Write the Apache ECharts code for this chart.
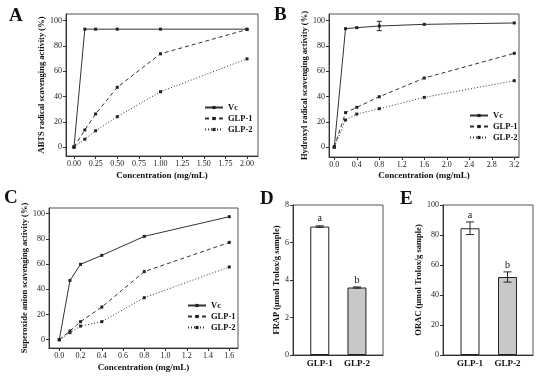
<!DOCTYPE html>
<html>
<head>
<meta charset="utf-8">
<script src="https://cdn.jsdelivr.net/npm/echarts@6/dist/echarts.min.js"></script>
<style>html,body{margin:0;padding:0;background:#fff;}#c{width:550px;height:385px;}</style>
</head>
<body>
<div id="c"></div>
<script>
// ---- Data ----
const concA = [0, 0.125, 0.25, 0.5, 1, 2];
const vcA = [0, 93.3, 93.3, 93.3, 93.3, 93.3];
const glp1A = [0, 13.5, 26.2, 47.3, 73.8, 93];
const glp2A = [0, 6.2, 12.9, 24, 43.8, 69.8];
const ticksA = [0, 0.25, 0.5, 0.75, 1, 1.25, 1.5, 1.75, 2];

const concB = [0, 0.2, 0.4, 0.8, 1.6, 3.2];
const vcB = [0, 93.7, 94.5, 95.8, 97.1, 98.2];
const vcBErr = [0, 0.5, 0.4, 3.7, 0.6, 0.4];
const glp1B = [0, 27.2, 31.4, 39.8, 54.6, 74.2];
const glp2B = [0, 21.4, 26.1, 30.3, 39.3, 52.5];
const ticksB = [0, 0.4, 0.8, 1.2, 1.6, 2.0, 2.4, 2.8, 3.2];

const concC = [0, 0.1, 0.2, 0.4, 0.8, 1.6];
const vcC = [0, 47, 59.8, 66.9, 82, 97.6];
const glp1C = [0, 6.9, 14.3, 25.9, 54, 77.2];
const glp2C = [0, 5.6, 10.8, 14.3, 33.3, 57.7];
const ticksC = [0, 0.2, 0.4, 0.6, 0.8, 1.0, 1.2, 1.4, 1.6];

const pctTicks = [0, 20, 40, 60, 80, 100];

const samples = ['GLP-1', 'GLP-2'];
const frap = [6.85, 3.6];
const frapErr = [0.04, 0.03];
const frapSig = ['a', 'b'];
const frapTicks = [0, 2, 4, 6, 8];
const orac = [84.5, 52];
const oracErr = [4.2, 3.4];
const oracSig = ['a', 'b'];
const oracTicks = [0, 20, 40, 60, 80, 100];

// ---- Styles ----
const FONT = 'Liberation Serif';
const AX = '#333';
const lineStyles = {
  'Vc': { type: 'solid' },
  'GLP-1': { type: [4, 3] },
  'GLP-2': { type: [1, 2] }
};

function valueAxisX(gridIndex, min, max, ticks, fmt, name, nameGap) {
  return {
    type: 'value', gridIndex, min, max,
    name, nameLocation: 'middle', nameGap,
    nameTextStyle: { fontFamily: FONT, fontWeight: 'bold', fontSize: 9, color: '#111' },
    axisLine: { show: true, onZero: false, lineStyle: { color: AX, width: 1 } },
    axisTick: { show: true, inside: false, length: 3, customValues: ticks, lineStyle: { color: AX } },
    axisLabel: { show: true, customValues: ticks, formatter: fmt, fontFamily: FONT, fontSize: 8, color: '#222', margin: 4 },
    splitLine: { show: false }
  };
}
function valueAxisY(gridIndex, min, max, ticks, name, nameGap) {
  return {
    type: 'value', gridIndex, min, max,
    name, nameLocation: 'middle', nameGap, nameRotate: 90,
    nameTextStyle: { fontFamily: FONT, fontWeight: 'bold', fontSize: 8.5, color: '#111' },
    axisLine: { show: true, onZero: false, lineStyle: { color: AX, width: 1 } },
    axisTick: { show: true, inside: false, length: 3, customValues: ticks, lineStyle: { color: AX } },
    axisLabel: { show: true, customValues: ticks, fontFamily: FONT, fontSize: 8, color: '#222', margin: 4 },
    splitLine: { show: false }
  };
}
function zip(xs, ys) { return xs.map((x, i) => [x, ys[i]]); }
function lineSeries(name, xs, ys, idx) {
  return {
    type: 'line', name, xAxisIndex: idx, yAxisIndex: idx,
    data: zip(xs, ys),
    symbol: 'rect', symbolSize: 3,
    itemStyle: { color: '#222' },
    lineStyle: Object.assign({ color: '#333', width: 1 }, lineStyles[name]),
    animation: false
  };
}
function errorSeries(idx, data, capW, withLabel) {
  return {
    type: 'custom', xAxisIndex: idx, yAxisIndex: idx,
    data, animation: false, z: 5,
    renderItem: function (params, api) {
      const x = api.value(0), lo = api.value(1), hi = api.value(2);
      const pLo = api.coord([x, lo]), pHi = api.coord([x, hi]);
      const st = { stroke: '#222', lineWidth: 1 };
      const ch = [
        { type: 'line', shape: { x1: pLo[0], y1: pLo[1], x2: pHi[0], y2: pHi[1] }, style: st },
        { type: 'line', shape: { x1: pLo[0] - capW, y1: pLo[1], x2: pLo[0] + capW, y2: pLo[1] }, style: st },
        { type: 'line', shape: { x1: pHi[0] - capW, y1: pHi[1], x2: pHi[0] + capW, y2: pHi[1] }, style: st }
      ];
      if (withLabel) {
        ch.push({ type: 'text', style: { text: api.value(3), x: pHi[0], y: pHi[1] - 2, align: 'center', verticalAlign: 'bottom', fontFamily: FONT, fontSize: 10, fill: '#111' } });
      }
      return { type: 'group', children: ch };
    }
  };
}
function legend(left, top) {
  return {
    orient: 'vertical', left, top, padding: 0, itemGap: 2,
    itemWidth: 18, itemHeight: 4,
    data: ['Vc', 'GLP-1', 'GLP-2'],
    textStyle: { fontFamily: FONT, fontWeight: 'bold', fontSize: 8.5, color: '#111' },
    selectedMode: false
  };
}

const gridBase = { show: true, borderColor: '#555', borderWidth: 1, backgroundColor: 'transparent', containLabel: false };

const option = {
  backgroundColor: '#fff',
  animation: false,
  textStyle: { fontFamily: FONT },
  title: [
    { text: 'A', left: 9, top: 7 },
    { text: 'B', left: 274, top: 6 },
    { text: 'C', left: 4, top: 189 },
    { text: 'D', left: 260, top: 190 },
    { text: 'E', left: 400, top: 190 }
  ].map(t => Object.assign(t, { padding: 0, textStyle: { fontFamily: FONT, fontWeight: 'bold', fontSize: 19, color: '#111' } })),
  legend: [legend(204, 103), legend(469, 111), legend(187, 301)],
  grid: [
    Object.assign({ left: 66, top: 14, width: 192, height: 142 }, gridBase),
    Object.assign({ left: 329, top: 14, width: 190, height: 143 }, gridBase),
    Object.assign({ left: 49, top: 208, width: 189, height: 140 }, gridBase),
    Object.assign({ left: 293, top: 205, width: 90, height: 150 }, gridBase),
    Object.assign({ left: 443, top: 205, width: 90, height: 150 }, gridBase)
  ],
  xAxis: [
    valueAxisX(0, -0.0925, 2.127, ticksA, v => v.toFixed(2), 'Concentration (mg/mL)', 15),
    valueAxisX(1, -0.094, 3.284, ticksB, v => v.toFixed(1), 'Concentration (mg/mL)', 14),
    valueAxisX(2, -0.097, 1.682, ticksC, v => v.toFixed(1), 'Concentration (mg/mL)', 15),
    (function () { const a = valueAxisX(3, -0.72, 1.70, [0, 1], v => samples[Math.round(v)], '', 0);
      a.axisTick.show = false; a.axisLabel.fontWeight = 'bold'; a.axisLabel.fontSize = 9; a.axisLabel.color = '#111'; return a; })(),
    (function () { const a = valueAxisX(4, -0.72, 1.68, [0, 1], v => samples[Math.round(v)], '', 0);
      a.axisTick.show = false; a.axisLabel.fontWeight = 'bold'; a.axisLabel.fontSize = 9; a.axisLabel.color = '#111'; return a; })()
  ],
  yAxis: [
    valueAxisY(0, -7.1, 105.3, pctTicks, 'ABTS radical scavenging activity (%)', 18),
    valueAxisY(1, -7.9, 105.3, pctTicks, 'Hydroxyl radical scavenging activity (%)', 20),
    valueAxisY(2, -6.6, 104.5, pctTicks, 'Superoxide anion scavenging activity (%)', 18),
    valueAxisY(3, 0, 8, frapTicks, 'FRAP (μmol Trolox/g sample)', 12),
    valueAxisY(4, 0, 100, oracTicks, 'ORAC (μmol Trolox/g sample)', 19)
  ],
  series: [
    lineSeries('Vc', concA, vcA, 0),
    lineSeries('GLP-1', concA, glp1A, 0),
    lineSeries('GLP-2', concA, glp2A, 0),
    lineSeries('Vc', concB, vcB, 1),
    lineSeries('GLP-1', concB, glp1B, 1),
    lineSeries('GLP-2', concB, glp2B, 1),
    errorSeries(1, concB.map((x, i) => [x, vcB[i] - vcBErr[i], vcB[i] + vcBErr[i]]).filter((d, i) => vcBErr[i] > 1), 2.5, false),
    lineSeries('Vc', concC, vcC, 2),
    lineSeries('GLP-1', concC, glp1C, 2),
    lineSeries('GLP-2', concC, glp2C, 2),
    {
      type: 'bar', xAxisIndex: 3, yAxisIndex: 3, barWidth: 19, animation: false,
      data: frap.map((v, i) => ({ value: [i, v], itemStyle: { color: i === 0 ? '#ffffff' : '#c8c8c8', borderColor: '#222', borderWidth: 1 } }))
    },
    errorSeries(3, frap.map((v, i) => [i, v - frapErr[i], v + frapErr[i], frapSig[i]]), 4, true),
    {
      type: 'bar', xAxisIndex: 4, yAxisIndex: 4, barWidth: 19, animation: false,
      data: orac.map((v, i) => ({ value: [i, v], itemStyle: { color: i === 0 ? '#ffffff' : '#c8c8c8', borderColor: '#222', borderWidth: 1 } }))
    },
    errorSeries(4, orac.map((v, i) => [i, v - oracErr[i], v + oracErr[i], oracSig[i]]), 4, true)
  ]
};

const chart = echarts.init(document.getElementById('c'), null, { renderer: 'canvas' });
chart.setOption(option);
</script>
</body>
</html>
